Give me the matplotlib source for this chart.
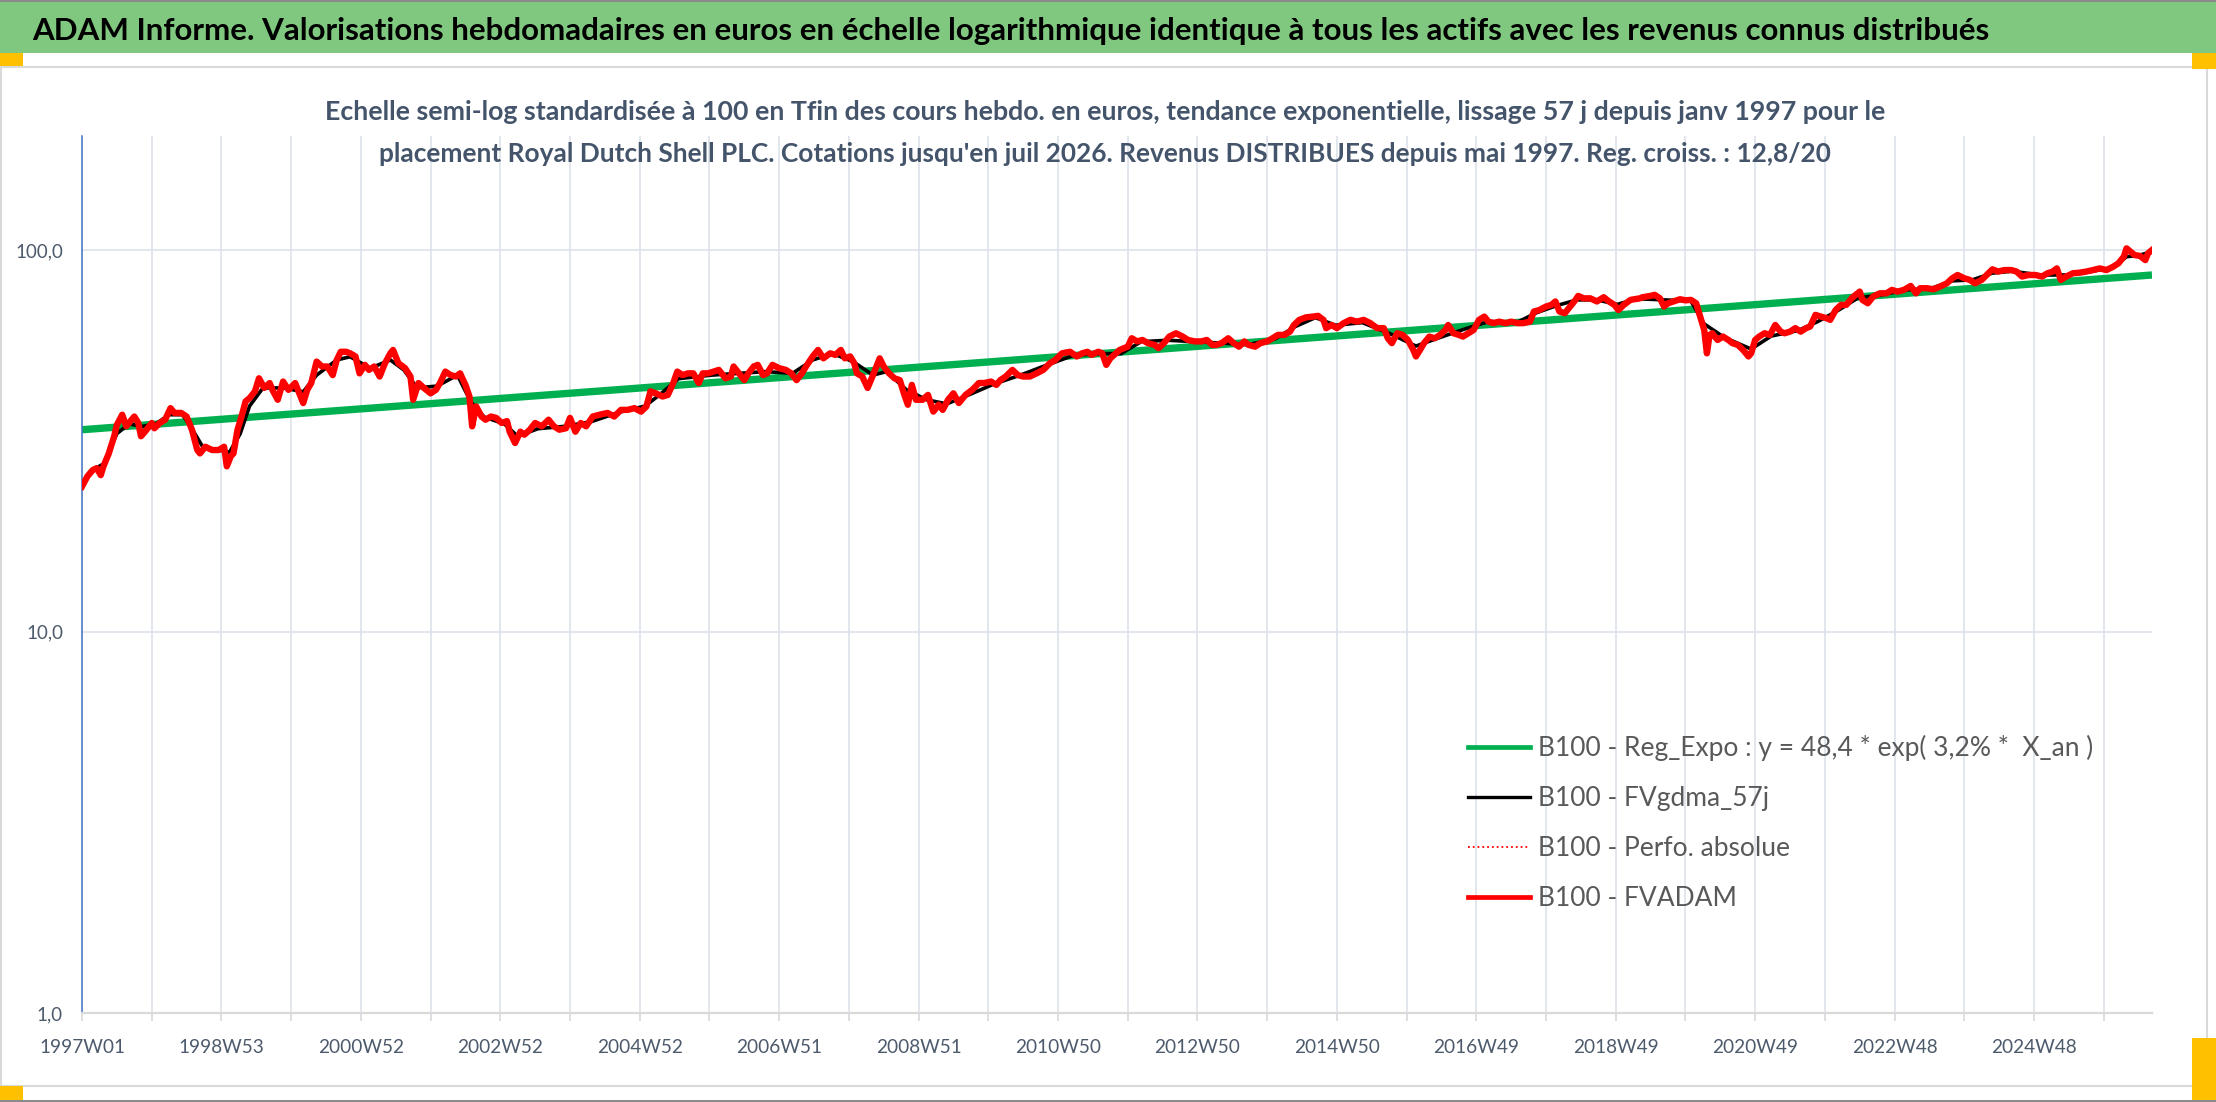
import matplotlib
matplotlib.use('Agg')
import matplotlib.pyplot as plt
from matplotlib.patches import Rectangle
from matplotlib.lines import Line2D
from matplotlib.ticker import NullLocator, FixedLocator

W, H = 2216, 1102
FAM = ['Liberation Sans Narrow', 'Lato', 'DejaVu Sans']
plt.rcParams['font.family'] = FAM

# ---------------- texts ----------------
TITLE = ("ADAM Informe. Valorisations hebdomadaires en euros en échelle logarithmique "
         "identique à tous les actifs avec les revenus connus distribués")
SUB1 = ("Echelle semi-log standardisée à 100 en Tfin des cours hebdo. en euros, tendance "
        "exponentielle, lissage 57 j depuis janv 1997 pour le")
SUB2 = ("placement Royal Dutch Shell PLC. Cotations jusqu'en juil 2026. Revenus DISTRIBUES "
        "depuis mai 1997. Reg. croiss. : 12,8/20")

X_LABELS = ['1997W01', '1998W53', '2000W52', '2002W52', '2004W52', '2006W51', '2008W51',
            '2010W50', '2012W50', '2014W50', '2016W49', '2018W49', '2020W49', '2022W48',
            '2024W48']
Y_TICKS = [1, 10, 100]
Y_LABELS = ['1,0', '10,0', '100,0']

LEGEND_LABELS = ['B100 - Reg_Expo : y = 48,4 * exp( 3,2% *  X_an )',
                 'B100 - FVgdma_57j',
                 'B100 - Perfo. absolue',
                 'B100 - FVADAM']

N_WEEKS = 1544  # last week index (juil 2026)

# ---------------- data (week index since 1997W01, base-100 values) ----------------
RED_WEEKS = [0, 4, 8, 11, 14, 16, 20, 24, 26, 30, 33, 35, 39, 42, 44, 47, 52, 54, 58, 62,
             66, 69, 74, 78, 82, 86, 88, 92, 97, 102, 106, 108, 111, 113, 116, 119, 122, 125,
             129, 132, 136, 140, 142, 146, 150, 154, 159, 163, 165, 168, 171, 175, 179, 183,
             187, 190, 193, 197, 200, 204, 207, 211, 214, 218, 222, 226, 230, 232, 236, 241,
             245, 247, 251, 255, 260, 264, 267, 271, 275, 279, 282, 286, 289, 291, 294, 298,
             301, 305, 309, 313, 317, 319, 323, 327, 330, 334, 338, 343, 348, 352, 356, 361,
             364, 368, 372, 376, 381, 386, 392, 397, 402, 407, 412, 417, 421, 424, 428, 433,
             437, 441, 444, 448, 452, 456, 460, 463, 467, 471, 475, 480, 484, 486, 490, 494,
             497, 501, 504, 508, 511, 515, 520, 525, 529, 533, 537, 540, 545, 549, 553, 558,
             562, 566, 569, 573, 576, 578, 582, 586, 590, 595, 598, 602, 606, 610, 613, 616,
             619, 622, 627, 631, 635, 639, 642, 646, 650, 654, 659, 664, 669, 673, 678, 682,
             685, 689, 694, 698, 702, 707, 712, 717, 722, 726, 731, 737, 742, 746, 750, 753,
             758, 761, 764, 767, 774, 780, 783, 787, 791, 795, 800, 803, 807, 811, 816, 821,
             825, 830, 835, 839, 843, 846, 850, 855, 859, 863, 867, 870, 875, 879, 884, 888,
             892, 897, 901, 904, 908, 913, 918, 922, 926, 928, 932, 936, 941, 946, 951, 956,
             961, 966, 971, 974, 977, 981, 985, 989, 993, 995, 998, 1001, 1005, 1009, 1013,
             1017, 1019, 1023, 1027, 1030, 1034, 1038, 1042, 1046, 1049, 1053, 1057, 1062,
             1066, 1071, 1075, 1080, 1083, 1087, 1092, 1096, 1099, 1102, 1106, 1110, 1114,
             1116, 1120, 1125, 1130, 1135, 1139, 1143, 1146, 1150, 1155, 1162, 1164, 1170,
             1173, 1177, 1180, 1183, 1187, 1192, 1196, 1200, 1204, 1207, 1210, 1212, 1214,
             1216, 1220, 1224, 1228, 1231, 1235, 1239, 1243, 1245, 1248, 1251, 1255, 1259,
             1263, 1267, 1270, 1274, 1278, 1282, 1286, 1289, 1293, 1297, 1301, 1304, 1308,
             1312, 1316, 1320, 1323, 1326, 1328, 1332, 1336, 1341, 1346, 1350, 1354, 1359,
             1364, 1368, 1371, 1376, 1381, 1386, 1391, 1395, 1399, 1404, 1408, 1412, 1417,
             1422, 1425, 1429, 1434, 1439, 1443, 1447, 1452, 1457, 1462, 1466, 1470, 1473,
             1476, 1480, 1485, 1490, 1495, 1500, 1505, 1510, 1515, 1519, 1523, 1525, 1528,
             1531, 1535, 1539, 1541, 1544]
RED_VALUES = [24.0, 25.5, 26.5, 26.8, 25.7, 27.1, 29.3, 32.5, 34.8, 37.0, 34.5, 35.2, 36.6,
              35.2, 32.5, 33.4, 35.2, 34.1, 35.2, 35.9, 38.5, 37.4, 37.4, 36.6, 33.8, 29.9,
              29.3, 30.5, 29.9, 29.9, 30.5, 27.1, 28.8, 29.3, 33.8, 36.6, 40.1, 40.9, 42.6,
              46.1, 43.5, 44.8, 43.0, 40.5, 45.2, 43.0, 44.8, 41.3, 39.7, 43.0, 44.8, 51.0,
              49.5, 49.5, 47.0, 51.5, 54.1, 54.1, 53.6, 52.6, 47.5, 50.0, 48.5, 49.5, 46.6,
              50.5, 53.6, 54.7, 50.5, 49.0, 46.6, 40.5, 44.8, 43.5, 42.1, 43.0, 44.8, 48.0,
              47.0, 46.6, 47.5, 44.3, 41.3, 34.5, 38.9, 36.6, 35.9, 36.6, 36.3, 35.2, 35.6,
              33.4, 31.2, 33.4, 32.8, 33.8, 35.2, 34.5, 35.9, 34.5, 33.8, 34.1, 36.3, 33.4,
              35.2, 34.5, 36.6, 37.0, 37.4, 36.6, 38.1, 38.1, 38.5, 37.7, 38.9, 42.6, 42.1,
              41.3, 41.7, 44.8, 48.0, 47.0, 47.5, 47.5, 44.8, 47.5, 47.5, 48.0, 48.5, 46.1,
              46.6, 49.5, 47.5, 45.6, 47.5, 49.5, 50.0, 47.0, 47.5, 50.0, 49.0, 48.5, 47.5,
              45.6, 47.5, 49.5, 52.6, 54.7, 52.0, 53.6, 53.1, 54.7, 52.0, 52.6, 50.5, 47.5,
              46.6, 43.5, 47.0, 52.0, 49.5, 47.5, 46.1, 45.6, 42.1, 39.3, 44.3, 40.5, 40.5,
              41.7, 37.7, 39.3, 38.1, 40.5, 42.1, 39.7, 41.7, 43.0, 44.8, 44.8, 45.2, 44.3,
              45.6, 46.6, 48.5, 47.0, 46.6, 46.6, 47.5, 48.5, 50.5, 51.5, 53.6, 54.1, 52.6,
              53.6, 54.1, 53.1, 54.1, 53.6, 50.0, 52.0, 54.7, 55.8, 58.7, 57.6, 58.1, 57.0,
              56.4, 55.3, 57.0, 59.3, 60.5, 59.3, 58.1, 57.6, 57.6, 58.1, 56.4, 56.4, 57.0,
              58.7, 57.0, 55.8, 57.6, 56.4, 55.8, 57.0, 57.6, 58.7, 59.9, 59.9, 61.1, 63.6,
              65.6, 66.6, 66.9, 67.2, 65.6, 62.4, 63.6, 62.4, 64.3, 65.6, 64.9, 65.6, 64.3,
              62.4, 62.4, 58.7, 57.0, 60.5, 59.9, 58.1, 54.7, 52.6, 54.7, 57.0, 59.3, 58.7,
              59.9, 61.7, 63.6, 60.5, 59.9, 59.3, 60.5, 61.7, 65.6, 66.9, 64.9, 64.3, 64.9,
              64.3, 64.9, 64.3, 64.3, 64.9, 69.0, 69.6, 71.1, 71.8, 73.3, 69.0, 68.3, 71.1,
              74.0, 75.8, 74.7, 74.7, 73.3, 75.2, 73.3, 71.8, 69.6, 71.8, 74.0, 74.7, 75.2,
              75.8, 76.3, 74.7, 71.1, 72.5, 73.3, 74.3, 73.8, 74.0, 72.5, 66.9, 61.7, 53.6,
              59.9, 60.5, 58.1, 59.3, 58.1, 57.0, 56.4, 54.7, 52.6, 53.6, 58.1, 59.3, 60.5,
              59.9, 63.6, 61.1, 60.5, 61.1, 62.4, 61.1, 62.4, 63.0, 67.6, 66.9, 66.3, 65.6,
              69.6, 71.8, 71.8, 74.7, 76.3, 77.8, 74.0, 72.5, 75.5, 77.0, 77.0, 78.6, 77.8,
              78.6, 80.5, 77.0, 79.4, 79.4, 78.9, 80.2, 81.8, 84.3, 86.0, 84.3, 83.5, 81.8,
              83.5, 86.9, 89.0, 87.8, 88.6, 88.6, 87.8, 85.2, 86.0, 86.0, 85.2, 86.9, 87.8,
              89.5, 83.5, 85.2, 86.9, 87.2, 87.8, 88.6, 89.5, 88.6, 90.4, 92.3, 96.1, 101.0,
              99.0, 97.0, 96.5, 94.1, 98.0, 100.0]

SMOOTH_WEEKS = [0, 8, 16, 26, 35, 45, 55, 65, 75, 82, 90, 100, 110, 118, 125, 135, 150, 165,
                175, 190, 200, 215, 230, 240, 250, 265, 280, 290, 300, 315, 325, 340, 360,
                380, 400, 420, 430, 445, 470, 490, 510, 530, 545, 560, 575, 590, 600, 615,
                630, 645, 660, 680, 700, 720, 740, 760, 775, 790, 810, 830, 850, 870, 890,
                905, 920, 935, 955, 975, 995, 1010, 1025, 1040, 1050, 1070, 1085, 1100, 1115,
                1130, 1145, 1160, 1180, 1200, 1210, 1225, 1245, 1260, 1280, 1295, 1310, 1325,
                1340, 1360, 1380, 1395, 1410, 1425, 1440, 1460, 1480, 1500, 1515, 1525, 1535,
                1544]
SMOOTH_VALUES = [24.5, 26.5, 27.5, 33.0, 35.0, 34.5, 35.0, 37.0, 37.0, 34.0, 30.5, 30.0,
                 29.5, 33.0, 39.0, 43.5, 43.5, 42.5, 47.0, 51.5, 52.5, 49.0, 51.5, 48.5, 43.5,
                 44.0, 47.0, 40.0, 36.5, 35.0, 32.5, 34.0, 34.5, 35.5, 37.5, 39.0, 41.5, 46.0,
                 47.0, 47.5, 48.0, 47.5, 51.5, 53.5, 51.0, 47.0, 48.0, 43.0, 40.5, 39.5, 41.5,
                 44.5, 47.0, 50.0, 53.0, 53.5, 53.5, 57.5, 58.0, 57.5, 57.0, 56.5, 58.5, 63.0,
                 66.5, 63.5, 64.5, 60.5, 56.0, 58.5, 61.0, 63.5, 65.0, 64.5, 68.5, 71.5, 74.0,
                 74.0, 72.0, 74.5, 74.0, 73.5, 64.0, 59.0, 55.0, 59.5, 61.5, 65.0, 69.5, 75.0,
                 76.0, 78.5, 79.5, 83.0, 83.5, 87.0, 88.0, 86.0, 86.0, 88.0, 90.0, 96.0, 97.0,
                 99.0]

# exponential regression trend: values at the first and last week
TREND_WEEKS = [0, N_WEEKS]
TREND_VALUES = [33.8, 86.0]

# ---------------- figure ----------------
fig = plt.figure(figsize=(W / 100, H / 100), dpi=100)
fig.patch.set_facecolor('white')


def fx(px):
    return px / W


def fy(py):
    return 1 - py / H


def rect(x0, y0, x1, y1, **kw):
    fig.add_artist(Rectangle((fx(x0), fy(y1)), (x1 - x0) / W, (y1 - y0) / H,
                             transform=fig.transFigure, **kw))


renderer = fig.canvas.get_renderer()


def fit_size(text, target_px, weight='normal'):
    t = fig.text(0, 0, text, fontsize=20, fontweight=weight)
    w = t.get_window_extent(renderer).width
    t.remove()
    return 20 * target_px / w


# decorations (Excel look)
rect(0, 0, W, 2, facecolor='#8a8a8a', edgecolor='none')
rect(0, 2, W, 53, facecolor='#80c880', edgecolor='none')
rect(1, 67, 2207, 1086, facecolor='none', edgecolor='#d9d9d9', linewidth=1.5)
rect(0, 53, 23, 66, facecolor='#ffc000', edgecolor='none')
rect(2192, 53, W, 69, facecolor='#ffc000', edgecolor='none')
rect(0, 1086, 23, 1100, facecolor='#ffc000', edgecolor='none')
rect(2192, 1038, W, 1100, facecolor='#ffc000', edgecolor='none')
rect(0, 1100, W, H, facecolor='#8a8a8a', edgecolor='none')

# titles
fig.text(fx(1011), fy(40), TITLE, ha='center', va='baseline', color='black',
         fontweight='bold', fontsize=fit_size(TITLE, 1953, 'bold'))
SUB_COLOR = '#44546a'
fig.text(fx(1105), fy(120), SUB1, ha='center', va='baseline', color=SUB_COLOR,
         fontweight='bold', fontsize=fit_size(SUB1, 1567, 'bold'), zorder=5)
fig.text(fx(1105), fy(162), SUB2, ha='center', va='baseline', color=SUB_COLOR,
         fontweight='bold', fontsize=fit_size(SUB2, 1454, 'bold'), zorder=5)

# axes
ax_l, ax_r, ax_t, ax_b = 82, 2152, 136, 1013
ax = fig.add_axes([fx(ax_l), fy(ax_b), (ax_r - ax_l) / W, (ax_b - ax_t) / H])
ax.set_facecolor('none')
ax.set_yscale('log')
ax.set_ylim(1, 10 ** ((ax_b - ax_t) / 381.5))
ax.set_xlim(0, N_WEEKS)

GRID = '#dde2ea'
LABEL_COLOR = '#4d5a6c'

ax.xaxis.set_major_locator(FixedLocator(list(range(0, 104 * len(X_LABELS), 104))))
ax.set_xticklabels(X_LABELS)
ax.xaxis.set_minor_locator(FixedLocator(list(range(52, N_WEEKS, 104))))
ax.yaxis.set_major_locator(FixedLocator(Y_TICKS))
ax.yaxis.set_minor_locator(NullLocator())
ax.set_yticklabels(Y_LABELS)

ax.grid(which='both', axis='x', color=GRID, linewidth=1.2)
ax.grid(which='major', axis='y', color=GRID, linewidth=1.2)
ax.set_axisbelow(True)

x_fs = fit_size('1997W01', 86)
y_fs = fit_size('100,0', 48)
ax.tick_params(axis='x', which='both', length=5.8, width=1.2, color='#d9d9d9',
               direction='out', pad=13, labelsize=x_fs, labelcolor=LABEL_COLOR)
ax.tick_params(axis='y', which='both', length=0, pad=13.7, labelsize=y_fs,
               labelcolor=LABEL_COLOR)

for s in ('top', 'right'):
    ax.spines[s].set_visible(False)
ax.spines['left'].set_color('#4472c4')
ax.spines['left'].set_linewidth(1.1)
ax.spines['bottom'].set_color('#d9d9d9')
ax.spines['bottom'].set_linewidth(1.6)

# series
ax.plot(TREND_WEEKS, TREND_VALUES, color='#00b050', linewidth=5.3,
        solid_capstyle='butt', zorder=2)
ax.plot(SMOOTH_WEEKS, SMOOTH_VALUES, color='black', linewidth=2.6, zorder=3)
ax.plot(RED_WEEKS, RED_VALUES, color='#ff0000', linewidth=1.2, linestyle=':', zorder=3.5)
ax.plot(RED_WEEKS, RED_VALUES, color='#ff0000', linewidth=4.6, zorder=4,
        solid_joinstyle='round')

# legend
leg_fs = fit_size(LEGEND_LABELS[0], 556)
handles = [Line2D([], [], color='#00b050', linewidth=3.4),
           Line2D([], [], color='black', linewidth=2.4),
           Line2D([], [], color='#ff0000', linewidth=1.3, linestyle=':'),
           Line2D([], [], color='#ff0000', linewidth=3.4)]
fs_px = leg_fs * 100 / 72
spacing = max((56.0 - 1.17 * fs_px) / fs_px, 0.1)
leg = fig.legend(handles, LEGEND_LABELS, loc='center left',
                 bbox_to_anchor=(fx(1468), fy(823)), bbox_transform=fig.transFigure,
                 frameon=False, fontsize=leg_fs, handlelength=62 / fs_px,
                 handletextpad=8 / fs_px, labelspacing=spacing, borderpad=0,
                 borderaxespad=0, labelcolor='#595959')

fig.savefig('out.png', dpi=100)
